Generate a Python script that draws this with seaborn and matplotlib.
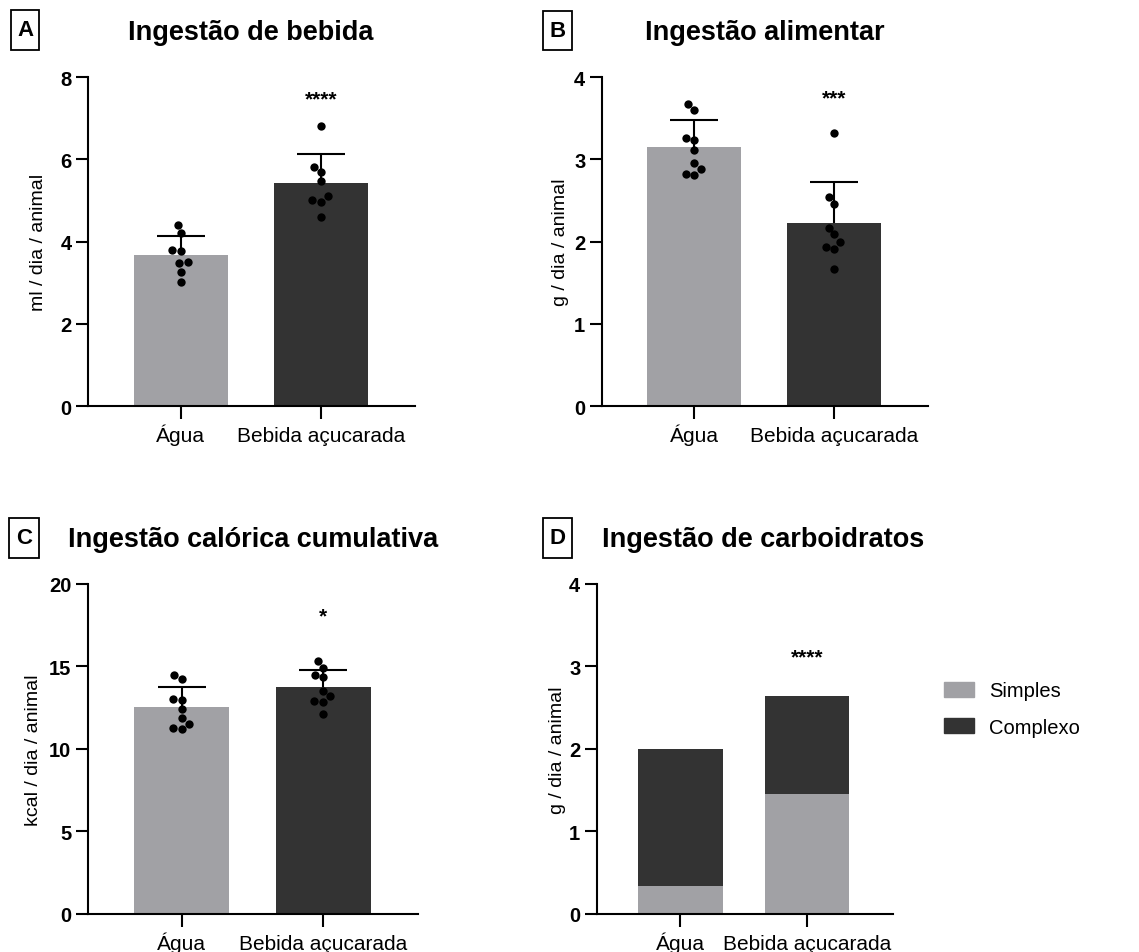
import numpy as np
import pandas as pd
import matplotlib
matplotlib.use('Agg')
import matplotlib.pyplot as plt
from matplotlib.patches import Patch, Rectangle
import seaborn as sns

# Groups and colours
grupos = ['Água', 'Bebida açucarada']
cores = {'Água': '#A1A1A5', 'Bebida açucarada': '#333333'}

# A - drink intake (ml / day / animal), one value per animal
bebida_agua = [4.40, 4.21, 3.79, 3.77, 3.50, 3.47, 3.27, 3.01]
bebida_acucar = [6.82, 5.82, 5.69, 5.47, 5.10, 5.01, 4.97, 4.60]

# B - food intake (g / day / animal)
alimento_agua = [3.67, 3.60, 3.26, 3.24, 3.11, 2.96, 2.88, 2.82, 2.81]
alimento_acucar = [3.32, 2.54, 2.46, 2.17, 2.09, 1.99, 1.93, 1.91, 1.67]

# C - cumulative caloric intake (kcal / day / animal)
calorias_agua = [14.48, 14.26, 13.00, 12.95, 12.40, 11.85, 11.50, 11.25, 11.20]
calorias_acucar = [15.31, 14.89, 14.48, 14.38, 13.49, 13.19, 12.91, 12.87, 12.14]

# D - carbohydrate intake (g / day / animal), stacked
carb_simples = [0.34, 1.46]
carb_complexo = [1.66, 1.18]

# significance marks
sig_a, sig_b, sig_c, sig_d = '****', '***', '*', '****'

sns.set_style('ticks')
plt.rcParams['font.family'] = ['Liberation Sans', 'DejaVu Sans']
plt.rcParams.update({'axes.linewidth': 1.5, 'axes.edgecolor': 'black',
                     'text.color': 'black', 'axes.labelcolor': 'black',
                     'xtick.color': 'black', 'ytick.color': 'black'})

fig = plt.figure(figsize=(11.39, 9.53), dpi=100)
ax_a = fig.add_axes([0.0773, 0.5729, 0.2871, 0.3452])
ax_b = fig.add_axes([0.5285, 0.5729, 0.2862, 0.3452])
ax_c = fig.add_axes([0.0773, 0.0399, 0.2897, 0.3463])
ax_d = fig.add_axes([0.5241, 0.0399, 0.2599, 0.3463])


def estilo(ax, ymax, passo, rotulo, xlab):
    ax.set_xlim(-0.66, 1.67)
    ax.set_ylim(0, ymax)
    ax.set_yticks(np.arange(0, ymax + 0.01, passo))
    ax.set_xlabel('')
    ax.set_ylabel(rotulo, fontsize=14)
    ax.yaxis.set_label_coords(xlab, 0.5)
    ax.tick_params(axis='both', length=9, width=1.5, color='black')
    ax.tick_params(axis='y', labelsize=14.5, pad=3)
    ax.tick_params(axis='x', labelsize=15, pad=16)
    for t in ax.get_yticklabels():
        t.set_fontweight('bold')
    for t in ax.get_xticklabels():
        t.set_verticalalignment('baseline')
    sns.despine(ax=ax)


def marca(ax, sig, ysig):
    ax.annotate(sig, (1, ysig), xytext=(0, -9), textcoords='offset points',
                ha='center', va='baseline', fontsize=15, fontweight='bold')


def painel(ax, agua, acucar, ymax, passo, rotulo, sig, ysig, xlab):
    df = pd.DataFrame({
        'grupo': [grupos[0]] * len(agua) + [grupos[1]] * len(acucar),
        'valor': agua + acucar,
    })
    sns.barplot(data=df, x='grupo', y='valor', hue='grupo', palette=cores,
                order=grupos, errorbar=None, width=0.67, saturation=1,
                legend=False, linewidth=0, ax=ax)
    stats = df.groupby('grupo', sort=False)['valor'].agg(['mean', 'std'])
    # SD drawn upwards only
    _, caps, _ = ax.errorbar([0, 1], stats['mean'],
                             yerr=[np.zeros(2), stats['std']], fmt='none',
                             ecolor='black', elinewidth=1.5, capsize=17,
                             capthick=1.5, zorder=3)
    caps[0].set_visible(False)
    sns.swarmplot(data=df, x='grupo', y='valor', order=grupos, color='black',
                  size=6, ax=ax, zorder=4)
    marca(ax, sig, ysig)
    estilo(ax, ymax, passo, rotulo, xlab)


painel(ax_a, bebida_agua, bebida_acucar, 8, 2, 'ml / dia / animal',
       sig_a, 7.65, -0.125)
painel(ax_b, alimento_agua, alimento_acucar, 4, 1, 'g / dia / animal',
       sig_b, 3.83, -0.1)
painel(ax_c, calorias_agua, calorias_acucar, 20, 5, 'kcal / dia / animal',
       sig_c, 18.5, -0.139)

# D - stacked bars: total (dark) behind, simple (light) in front
df_d = pd.DataFrame({
    'grupo': grupos,
    'simples': carb_simples,
    'total': np.add(carb_simples, carb_complexo),
})
sns.barplot(data=df_d, x='grupo', y='total', color='#333333', width=0.67,
            saturation=1, linewidth=0, ax=ax_d)
sns.barplot(data=df_d, x='grupo', y='simples', color='#A1A1A5', width=0.67,
            saturation=1, linewidth=0, ax=ax_d)
marca(ax_d, sig_d, 3.2)
estilo(ax_d, 4, 1, 'g / dia / animal', -0.105)
ax_d.set_xlim(-0.66, 1.68)

fig.legend(handles=[Patch(color='#A1A1A5', label='Simples'),
                    Patch(color='#333333', label='Complexo')],
           loc='center left', bbox_to_anchor=(0.813, 0.255), frameon=False,
           fontsize=14.5, handlelength=1.5, handleheight=0.82,
           handletextpad=0.75, labelspacing=0.85)

# titles and panel letters
titulos = [('Ingestão de bebida', 0.2204, 0.965),
           ('Ingestão alimentar', 0.6716, 0.965),
           ('Ingestão calórica cumulativa', 0.2221, 0.4334),
           ('Ingestão de carboidratos', 0.6699, 0.4334)]
for texto, x, y in titulos:
    fig.text(x, y, texto, ha='center', va='center', fontsize=19.5,
             fontweight='bold')

# letter boxes (left, top, right, bottom in pixels)
W, H = 1139, 953
letras = [('A', 11, 11, 39, 51), ('B', 543, 12, 572, 51),
          ('C', 9, 519, 39, 559), ('D', 543, 519, 572, 559)]
for letra, x0, y0, x1, y1 in letras:
    fig.add_artist(Rectangle((x0 / W, 1 - y1 / H), (x1 - x0) / W,
                             (y1 - y0) / H, transform=fig.transFigure,
                             fill=False, ec='black', lw=1.3))
    fig.text((x0 + x1) / 2 / W, 1 - (y0 + y1) / 2 / H, letra, ha='center',
             va='center', fontsize=16, fontweight='bold')

fig.savefig('out.png', dpi=100)
